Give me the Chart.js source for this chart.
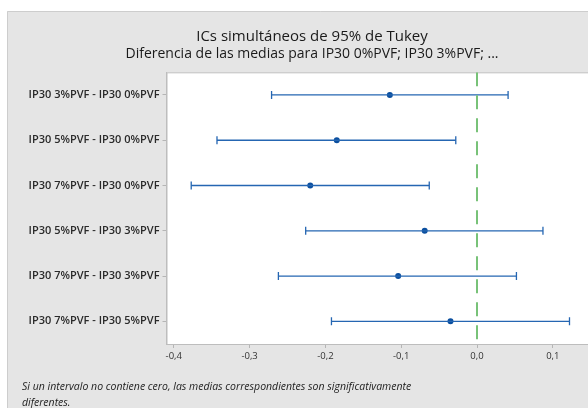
<!DOCTYPE html>
<html>
<head>
<meta charset="utf-8">
<script src="https://cdn.jsdelivr.net/npm/chart.js@4.4.1/dist/chart.umd.min.js"></script>
<style>
  html, body { margin: 0; padding: 0; background: #fff; overflow: hidden; }
  #wrap { position: relative; width: 588px; height: 408px; overflow: hidden; }
  #chart { position: absolute; left: 0; top: 0; }
  .note {
    position: absolute; left: 22px; font-family: "Open Sans", sans-serif;
    font-style: italic; font-size: 10.5px; color: #222; white-space: nowrap; line-height: 14px;
  }
</style>
</head>
<body>
<div id="wrap">
  <canvas id="chart" width="634" height="408"></canvas>
  <div class="note" style="top:379px">Si un intervalo no contiene cero, las medias correspondientes son significativamente</div>
  <div class="note" style="top:395px">diferentes.</div>
</div>
<script>
// --- datos ---
const pairs = [
  'IP30 3%PVF - IP30 0%PVF',
  'IP30 5%PVF - IP30 0%PVF',
  'IP30 7%PVF - IP30 0%PVF',
  'IP30 5%PVF - IP30 3%PVF',
  'IP30 7%PVF - IP30 3%PVF',
  'IP30 7%PVF - IP30 5%PVF'
];
const lowerCI = [-0.271, -0.343, -0.377, -0.226, -0.262, -0.192];
const meanDiff = [-0.115, -0.185, -0.220, -0.069, -0.104, -0.035];
const upperCI = [0.041, -0.028, -0.063, 0.087, 0.052, 0.122];
const xTicks = [-0.4, -0.3, -0.2, -0.1, 0.0, 0.1];

const blue = '#2566b2';
const blueDot = '#0b4f9f';
const green = '#78c278';

// fondo gris del panel + área blanca del gráfico
const panelBg = {
  id: 'panelBg',
  beforeDraw(chart) {
    const ctx = chart.ctx, a = chart.chartArea;
    ctx.save();
    ctx.fillStyle = '#fff';
    ctx.fillRect(0, 0, chart.width, chart.height);
    ctx.fillStyle = '#e5e5e5';
    ctx.fillRect(7, 11, chart.width, chart.height);
    ctx.strokeStyle = '#cdcdcd';
    ctx.lineWidth = 1;
    ctx.beginPath();
    ctx.moveTo(7.5, chart.height);
    ctx.lineTo(7.5, 11.5);
    ctx.lineTo(chart.width, 11.5);
    ctx.stroke();
    ctx.fillStyle = '#fff';
    ctx.fillRect(a.left, a.top, a.right - a.left, a.bottom - a.top);
    ctx.strokeStyle = '#bdbdbd';
    ctx.strokeRect(a.left + 0.5, a.top + 0.5, a.right - a.left, a.bottom - a.top);
    ctx.restore();
  }
};

const datasets = [];

// línea de referencia en cero
datasets.push({
  data: [{ x: 0, y: 0.5 }, { x: 0, y: 6.5 }],
  showLine: true,
  borderColor: green,
  borderWidth: 2,
  borderDash: [14, 9],
  pointRadius: 0
});

// intervalos
pairs.forEach((p, i) => {
  datasets.push({
    data: [{ x: lowerCI[i], y: i + 1 }, { x: upperCI[i], y: i + 1 }],
    showLine: true,
    borderColor: blue,
    borderWidth: 1.3,
    pointStyle: 'line',
    rotation: 90,
    pointRadius: 4,
    pointBorderColor: blue,
    pointBorderWidth: 1.3
  });
});

// medias
datasets.push({
  data: meanDiff.map((m, i) => ({ x: m, y: i + 1 })),
  pointStyle: 'circle',
  pointRadius: 3,
  pointBackgroundColor: blueDot,
  pointBorderColor: blueDot,
  pointBorderWidth: 0
});

new Chart(document.getElementById('chart'), {
  type: 'scatter',
  data: { datasets },
  options: {
    responsive: false,
    animation: false,
    layout: { padding: { left: 0, right: 10, top: 0, bottom: 0 } },
    plugins: {
      legend: { display: false },
      tooltip: { enabled: false },
      title: {
        display: true,
        text: 'ICs simultáneos de 95% de Tukey',
        color: '#1a1a1a',
        font: { family: '"Open Sans", sans-serif', size: 15, weight: 'normal' },
        padding: { top: 28, bottom: 0 }
      },
      subtitle: {
        display: true,
        text: 'Diferencia de las medias para IP30 0%PVF; IP30 3%PVF; ...',
        color: '#1a1a1a',
        font: { family: '"Open Sans", sans-serif', size: 14, weight: 'normal' },
        padding: { top: 0, bottom: 9.5 }
      }
    },
    scales: {
      x: {
        type: 'linear',
        min: -0.4096,
        max: 0.1939,
        afterBuildTicks: s => { s.ticks = xTicks.map(v => ({ value: v })); },
        afterFit: s => { s.height = 64; },
        border: { color: '#bdbdbd' },
        grid: { drawOnChartArea: false, drawTicks: true, tickLength: 4, color: '#b5b5b5' },
        ticks: {
          color: '#333',
          font: { family: '"Open Sans", sans-serif', size: 9.5 },
          padding: 3,
          maxRotation: 0,
          callback: v => v.toFixed(1).replace('.', ',')
        }
      },
      y: {
        type: 'linear',
        reverse: true,
        min: 0.5,
        max: 6.5,
        afterBuildTicks: s => { s.ticks = pairs.map((_, i) => ({ value: i + 1 })); },
        afterFit: s => { s.width = 166.5; },
        border: { color: '#bdbdbd' },
        grid: { drawOnChartArea: false, drawTicks: true, tickLength: 4, color: '#b5b5b5' },
        ticks: {
          color: '#2a2a2a',
          font: { family: '"Open Sans", sans-serif', size: 11, weight: '600' },
          padding: 3,
          callback: v => pairs[v - 1]
        }
      }
    }
  },
  plugins: [panelBg]
});
</script>
</body>
</html>
